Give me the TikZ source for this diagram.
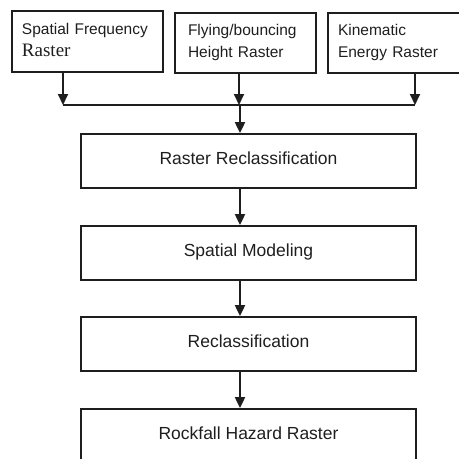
\documentclass[tikz,border=0pt]{standalone}
\usepackage{fontspec}
\setmainfont{Liberation Sans}
\newfontfamily\serifraster{Liberation Serif}
\usetikzlibrary{arrows.meta}
\definecolor{ink}{HTML}{1E1E1E}
\tikzset{
  topbox/.style={draw=ink, line width=1.8pt, inner sep=0pt, align=left,
    font=\fontsize{15.5}{22}\selectfont, text height=11.1pt, text depth=26pt, text=ink},
  midbox/.style={draw=ink, line width=1.8pt, inner sep=0pt,
    minimum width=335pt, minimum height=54pt,
    font=\fontsize{17.5}{21}\selectfont, text height=12pt, text depth=6pt, text=ink},
  arr/.style={draw=ink, line width=2pt, -{Triangle[width=10pt,length=11pt]}},
  plain/.style={draw=ink, line width=2pt}
}
\begin{document}
\begin{tikzpicture}[x=1pt,y=-1pt]
\useasboundingbox (0,0) rectangle (459,459);
\clip (0,0) rectangle (459,459);
\node[topbox, minimum width=151pt, minimum height=61pt, text width=131pt] (b1) at (87.5,41.5)
  {Spatial Frequency\\{\serifraster\fontsize{19}{22}\selectfont Raster}};
\node[topbox, minimum width=141pt, minimum height=60pt, text width=115pt] (b2) at (245.5,43)
  {Flying/bouncing\\Height Raster};
\node[topbox, minimum width=134pt, minimum height=60pt, text width=114pt] (b3) at (395,43)
  {Kinematic\\Energy Raster};
\node[midbox] (rr) at (248.5,161) {Raster Reclassification};
\node[midbox] (sm) at (248.5,253) {Spatial Modeling};
\node[midbox] (rc) at (248.5,344) {Reclassification};
\node[midbox, minimum height=61pt] (rf) at (248.5,439.5) {};
\node[font=\fontsize{17.5}{21}\selectfont, text=ink, anchor=base] (rft) at (248.5,439) {Rockfall Hazard Raster};
\coordinate (j1) at (63,105);
\coordinate (j2) at (239,105);
\coordinate (j3) at (415,105);
\coordinate (jm) at (240,105);
\draw[arr] (b1.south -| j1) -- (j1);
\draw[arr] (b2.south -| j2) -- (j2);
\draw[arr] (b3.south -| j3) -- (j3);
\draw[plain] (j1) -- (j3);
\draw[arr] (jm) -- (rr.north -| jm);
\draw[arr] (rr.south -| jm) -- (sm.north -| jm);
\draw[arr] (sm.south -| jm) -- (rc.north -| jm);
\draw[arr] (rc.south -| jm) -- (rf.north -| jm);
\end{tikzpicture}
\end{document}
